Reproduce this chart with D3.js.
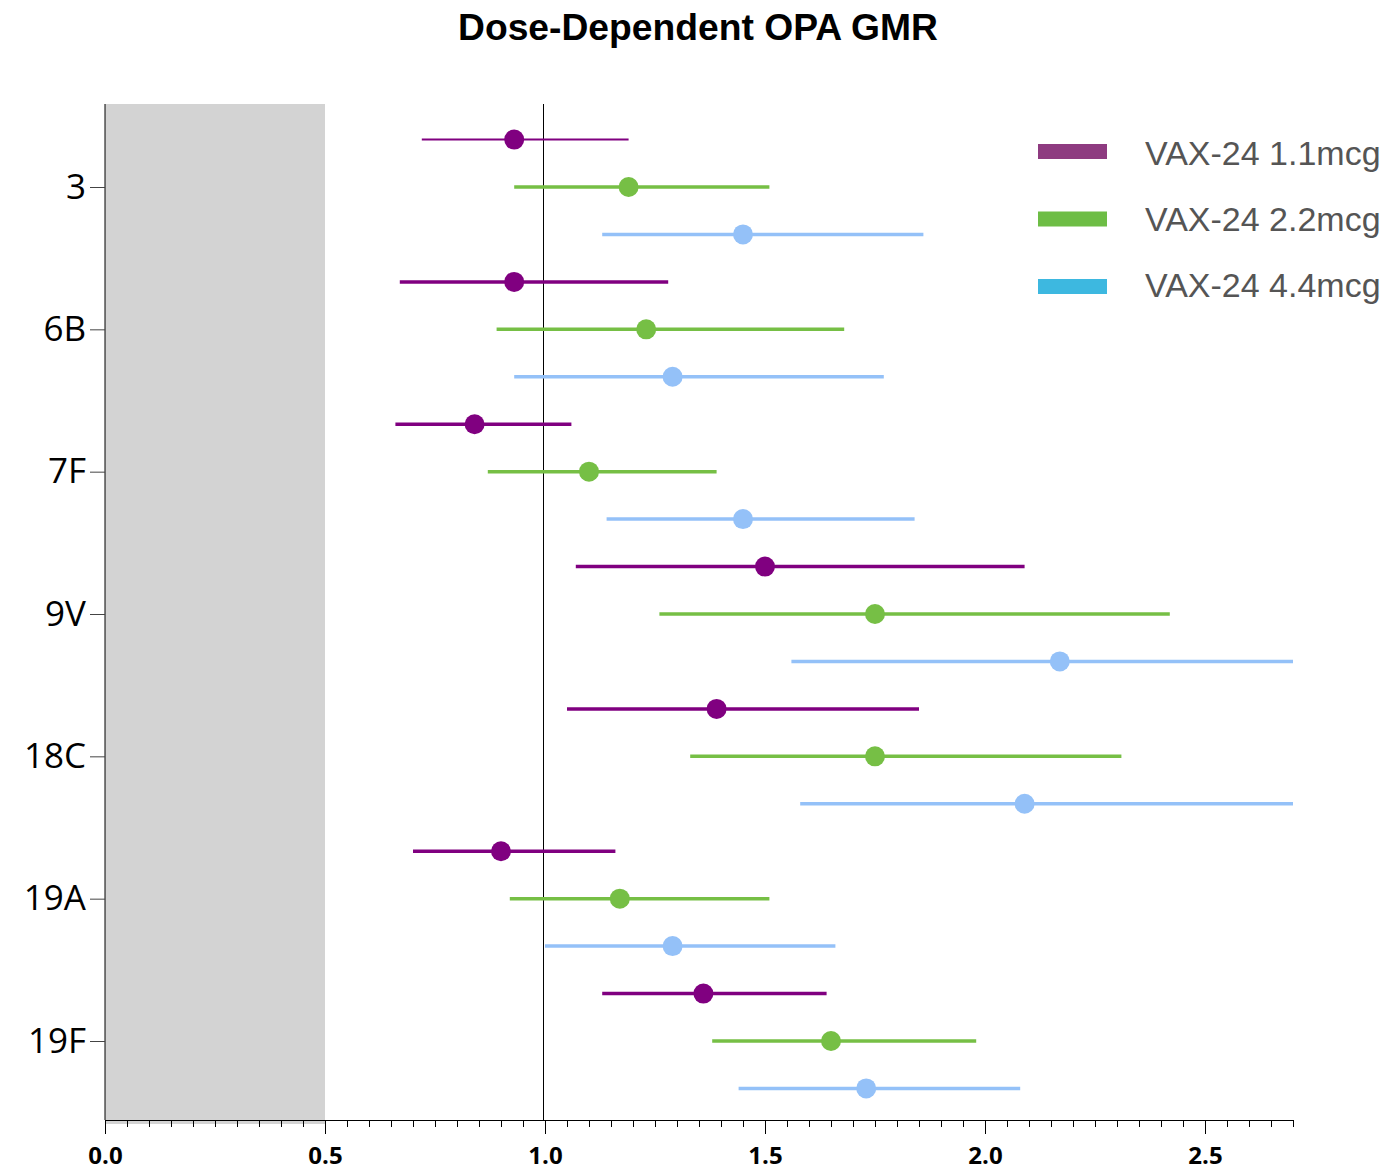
<!DOCTYPE html>
<html>
<head>
<meta charset="utf-8">
<script src="https://cdn.jsdelivr.net/npm/d3@7"></script>
<style>
  body { margin: 0; background: #fff; }
  svg { display: block; }
</style>
</head>
<body>
<svg></svg>
<script>
// serotypes, top to bottom
const serotypes = ['3', '6B', '7F', '9V', '18C', '19A', '19F']
const doses = ['VAX-24 1.1mcg', 'VAX-24 2.2mcg', 'VAX-24 4.4mcg']

// GMR point estimates per dose (same order as serotypes)
const gmr11 = [0.93, 0.93, 0.84, 1.50, 1.39, 0.90, 1.36]
const gmr22 = [1.19, 1.23, 1.10, 1.75, 1.75, 1.17, 1.65]
const gmr44 = [1.45, 1.29, 1.45, 2.17, 2.09, 1.29, 1.73]

// lower / upper CI
const lo11 = [0.72, 0.67, 0.66, 1.07, 1.05, 0.70, 1.13]
const hi11 = [1.19, 1.28, 1.06, 2.09, 1.85, 1.16, 1.64]
const lo22 = [0.93, 0.89, 0.87, 1.26, 1.33, 0.92, 1.38]
const hi22 = [1.51, 1.68, 1.39, 2.42, 2.31, 1.51, 1.98]
const lo44 = [1.13, 0.93, 1.14, 1.56, 1.58, 1.00, 1.44]
const hi44 = [1.86, 1.77, 1.84, 2.90, 2.80, 1.66, 2.08]

const xTicks = [0.0, 0.5, 1.0, 1.5, 2.0, 2.5]

const lineColors = ['#800080', '#76bf45', '#94c1f8']
const legendColors = ['#8e3b80', '#6dbd45', '#3db8e0']

let width = 1393
let height = 1173
let plotLeft = 105
let plotRight = 1293
let plotTop = 104
let plotBottom = 1120

let svg = d3.select('svg')
svg.attr('width', width).attr('height', height)

let xScale = d3.scaleLinear().domain([0, 2.7]).range([plotLeft, plotRight])
let yScale = d3.scalePoint().domain(serotypes).range([187, 1041])
let offset = yScale.step() / 3

// rows: one per serotype x dose
let rows = []
const gmrs = [gmr11, gmr22, gmr44]
const los = [lo11, lo22, lo44]
const his = [hi11, hi22, hi44]
serotypes.forEach((s, i) => {
    doses.forEach((d, j) => {
        rows.push({ s: s, dose: j, gmr: gmrs[j][i], lo: los[j][i], hi: his[j][i] })
    })
})
const rowY = r => yScale(r.s) + (r.dose - 1) * offset

// title
svg.append('text')
   .attr('x', 698).attr('y', 40)
   .attr('text-anchor', 'middle')
   .style('font-family', 'Liberation Sans, Arial, sans-serif')
   .style('font-weight', 'bold')
   .style('font-size', '36px')
   .attr('textLength', 480)
   .attr('lengthAdjust', 'spacingAndGlyphs')
   .text('Dose-Dependent OPA GMR')

// gray region below 0.5
svg.append('rect')
   .attr('x', xScale(0)).attr('y', plotTop)
   .attr('width', xScale(0.5) - xScale(0))
   .attr('height', plotBottom - plotTop + 4)
   .attr('fill', '#d3d3d3')

// reference line at 1.0
svg.append('line')
   .attr('x1', Math.round(xScale(1)) - 1.5).attr('x2', Math.round(xScale(1)) - 1.5)
   .attr('y1', plotTop).attr('y2', plotBottom)
   .attr('stroke', '#000').attr('stroke-width', 1)

svg.append('clipPath').attr('id', 'plotclip')
   .append('rect')
   .attr('x', plotLeft).attr('y', plotTop)
   .attr('width', plotRight - plotLeft).attr('height', plotBottom - plotTop)

let plot = svg.append('g').attr('clip-path', 'url(#plotclip)')

plot.selectAll('line.ci')
    .data(rows)
    .enter()
    .append('line')
    .attr('class', 'ci')
    .attr('x1', r => xScale(r.lo))
    .attr('x2', r => xScale(r.hi))
    .attr('y1', rowY)
    .attr('y2', rowY)
    .attr('stroke', r => lineColors[r.dose])
    .attr('stroke-width', (r, i) => i === 0 ? 2 : 3.5)

plot.selectAll('circle')
    .data(rows)
    .enter()
    .append('circle')
    .attr('cx', r => xScale(r.gmr))
    .attr('cy', rowY)
    .attr('r', 10)
    .attr('fill', r => lineColors[r.dose])

// x axis with minor ticks
let minor = d3.range(0, 2.7001, 0.05)
let xMinor = d3.axisBottom(xScale).tickValues(minor).tickSize(7).tickFormat('')
svg.append('g')
   .attr('transform', 'translate(0,' + plotBottom + ')')
   .call(xMinor)
   .call(g => g.select('.domain').attr('stroke', '#000'))

let xAxis = d3.axisBottom(xScale).tickValues(xTicks).tickSize(14).tickPadding(13)
    .tickFormat(d3.format('.1f'))
svg.append('g')
   .attr('transform', 'translate(0,' + plotBottom + ')')
   .call(xAxis)
   .call(g => g.select('.domain').remove())
   .call(g => g.selectAll('text')
       .style('font-family', 'Open Sans, sans-serif')
       .style('font-weight', 'bold')
       .style('font-size', '24px')
       .attr('fill', '#000'))

// y axis
let yAxis = d3.axisLeft(yScale).tickSize(15).tickPadding(4)
svg.append('g')
   .attr('transform', 'translate(' + plotLeft + ',0)')
   .call(yAxis)
   .call(g => g.select('.domain').attr('d', 'M0,' + plotTop + 'V' + plotBottom))
   .call(g => g.selectAll('.tick line').attr('stroke', '#444'))
   .call(g => g.selectAll('text')
       .style('font-family', 'Open Sans, sans-serif')
       .style('font-size', '35px')
       .attr('fill', '#000'))

// legend
let legend = svg.append('g')
legend.selectAll('rect')
    .data(doses)
    .enter()
    .append('rect')
    .attr('x', 1038)
    .attr('y', (d, i) => 144 + i * 67.5)
    .attr('width', 69)
    .attr('height', 15)
    .attr('fill', (d, i) => legendColors[i])

legend.selectAll('text')
    .data(doses)
    .enter()
    .append('text')
    .attr('x', 1145)
    .attr('y', (d, i) => 165 + i * 66)
    .style('font-family', 'Liberation Sans, Arial, sans-serif')
    .style('font-size', '34px')
    .attr('fill', '#555')
    .text(d => d)
</script>
</body>
</html>
